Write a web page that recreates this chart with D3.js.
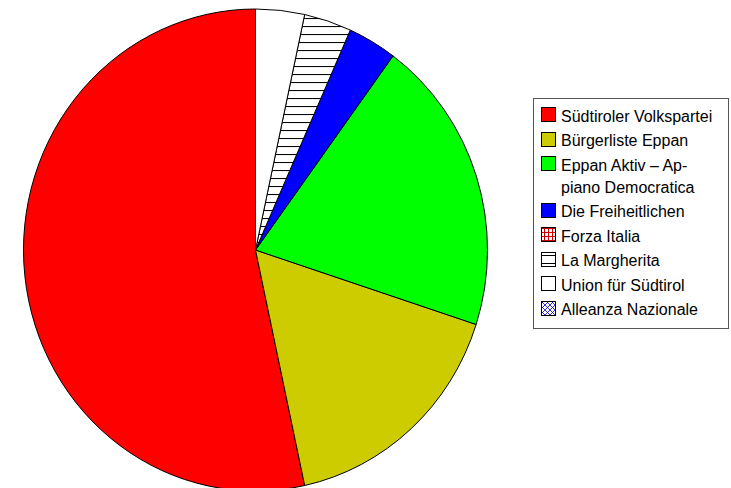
<!DOCTYPE html>
<html>
<head>
<meta charset="utf-8">
<script src="https://cdn.jsdelivr.net/npm/d3@7"></script>
<style>
html,body{margin:0;padding:0;background:#fff;}
svg{display:block;}
text{font-family:"Liberation Sans",Arial,sans-serif;}
</style>
</head>
<body>
<svg id="chart" width="731" height="488"></svg>
<script>
const parties = ["Südtiroler Volkspartei","Bürgerliste Eppan","Eppan Aktiv – Appiano Democratica","Die Freiheitlichen","Forza Italia","La Margherita","Union für Südtirol","Alleanza Nazionale"];
const legendLines = [["Südtiroler Volkspartei"],["Bürgerliste Eppan"],["Eppan Aktiv – Ap-","piano Democratica"],["Die Freiheitlichen"],["Forza Italia"],["La Margherita"],["Union für Südtirol"],["Alleanza Nazionale"]];
const shares = [53.4, 16.6, 19.9, 3.4, 0, 3.3, 3.4, 0];
const fills = ["#ff0000","#cccc00","#00ff00","#0000ff","url(#pForza)","url(#pMarg)","#ffffff","url(#pAN)"];

const svg = d3.select("#chart");
const defs = svg.append("defs");

const pf = defs.append("pattern").attr("id","pForza").attr("patternUnits","userSpaceOnUse")
  .attr("width",4).attr("height",4);
pf.append("rect").attr("width",4).attr("height",4).attr("fill","#fff");
pf.append("path").attr("d","M0,0.5H4M0.5,0V4").attr("stroke","#cc0000").attr("stroke-width",1);

const pm = defs.append("pattern").attr("id","pMarg").attr("patternUnits","userSpaceOnUse")
  .attr("width",8).attr("height",7.7);
pm.append("rect").attr("width",8).attr("height",7.7).attr("fill","#fff");
pm.append("path").attr("d","M0,0.5H8").attr("stroke","#000").attr("stroke-width",1);

const pa = defs.append("pattern").attr("id","pAN").attr("patternUnits","userSpaceOnUse")
  .attr("width",5).attr("height",5);
pa.append("rect").attr("width",5).attr("height",5).attr("fill","#fff");
pa.append("path").attr("d","M0,0L5,5M5,0L0,5").attr("stroke","#0000cc").attr("stroke-width",0.8);

const plm = defs.append("pattern").attr("id","pMargL").attr("patternUnits","userSpaceOnUse")
  .attr("width",15).attr("height",8).attr("y",3);
plm.append("rect").attr("width",15).attr("height",8).attr("fill","#fff");
plm.append("path").attr("d","M0,4.5H15").attr("stroke","#000").attr("stroke-width",1);

const rx = 232, ry = 241, cx = 255.5, cy = 250;
const pie = d3.pie().sort(null).value(d => d).startAngle(0).endAngle(-2*Math.PI);
const arc = d3.arc().innerRadius(0).outerRadius(rx);

const g = svg.append("g").attr("transform", `translate(${cx},${cy}) scale(1,${ry/rx})`);
g.selectAll("path").data(pie(shares)).join("path")
  .attr("d", d => d.value > 0 ? arc(d) : null)
  .attr("fill", (d,i) => fills[i])
  .attr("stroke", "#000")
  .attr("stroke-width", 1)
  .attr("stroke-linejoin","round")
  .attr("vector-effect","non-scaling-stroke");

// Legend
const lg = svg.append("g");
const itemStep = 24.5, wrapStep = 22, fs = 16;
const boxX = 533.5, boxY = 98.5, boxW = 195, boxH = 230;
lg.append("rect").attr("x",boxX).attr("y",boxY).attr("width",boxW).attr("height",boxH)
  .attr("fill","#fff").attr("stroke","#555").attr("stroke-width",1);
const legendFills = ["#ff0000","#cccc00","#00ff00","#0000ff","url(#pForza)","url(#pMargL)","#ffffff","url(#pAN)"];
let extra = 0;
legendLines.forEach((lines,i) => {
  const y0 = 107 + i*itemStep + extra;
  lg.append("rect").attr("x",541.5).attr("y",Math.round(y0)+0.5).attr("width",14).attr("height",14)
    .attr("fill",legendFills[i]).attr("stroke","#000").attr("stroke-width",1);
  lines.forEach((t,k) => {
    lg.append("text").attr("x",561).attr("y",y0 + 14.5 + k*wrapStep)
      .attr("font-size",fs).attr("fill","#000").text(t);
  });
  extra += (lines.length-1)*wrapStep;
});
</script>
</body>
</html>
